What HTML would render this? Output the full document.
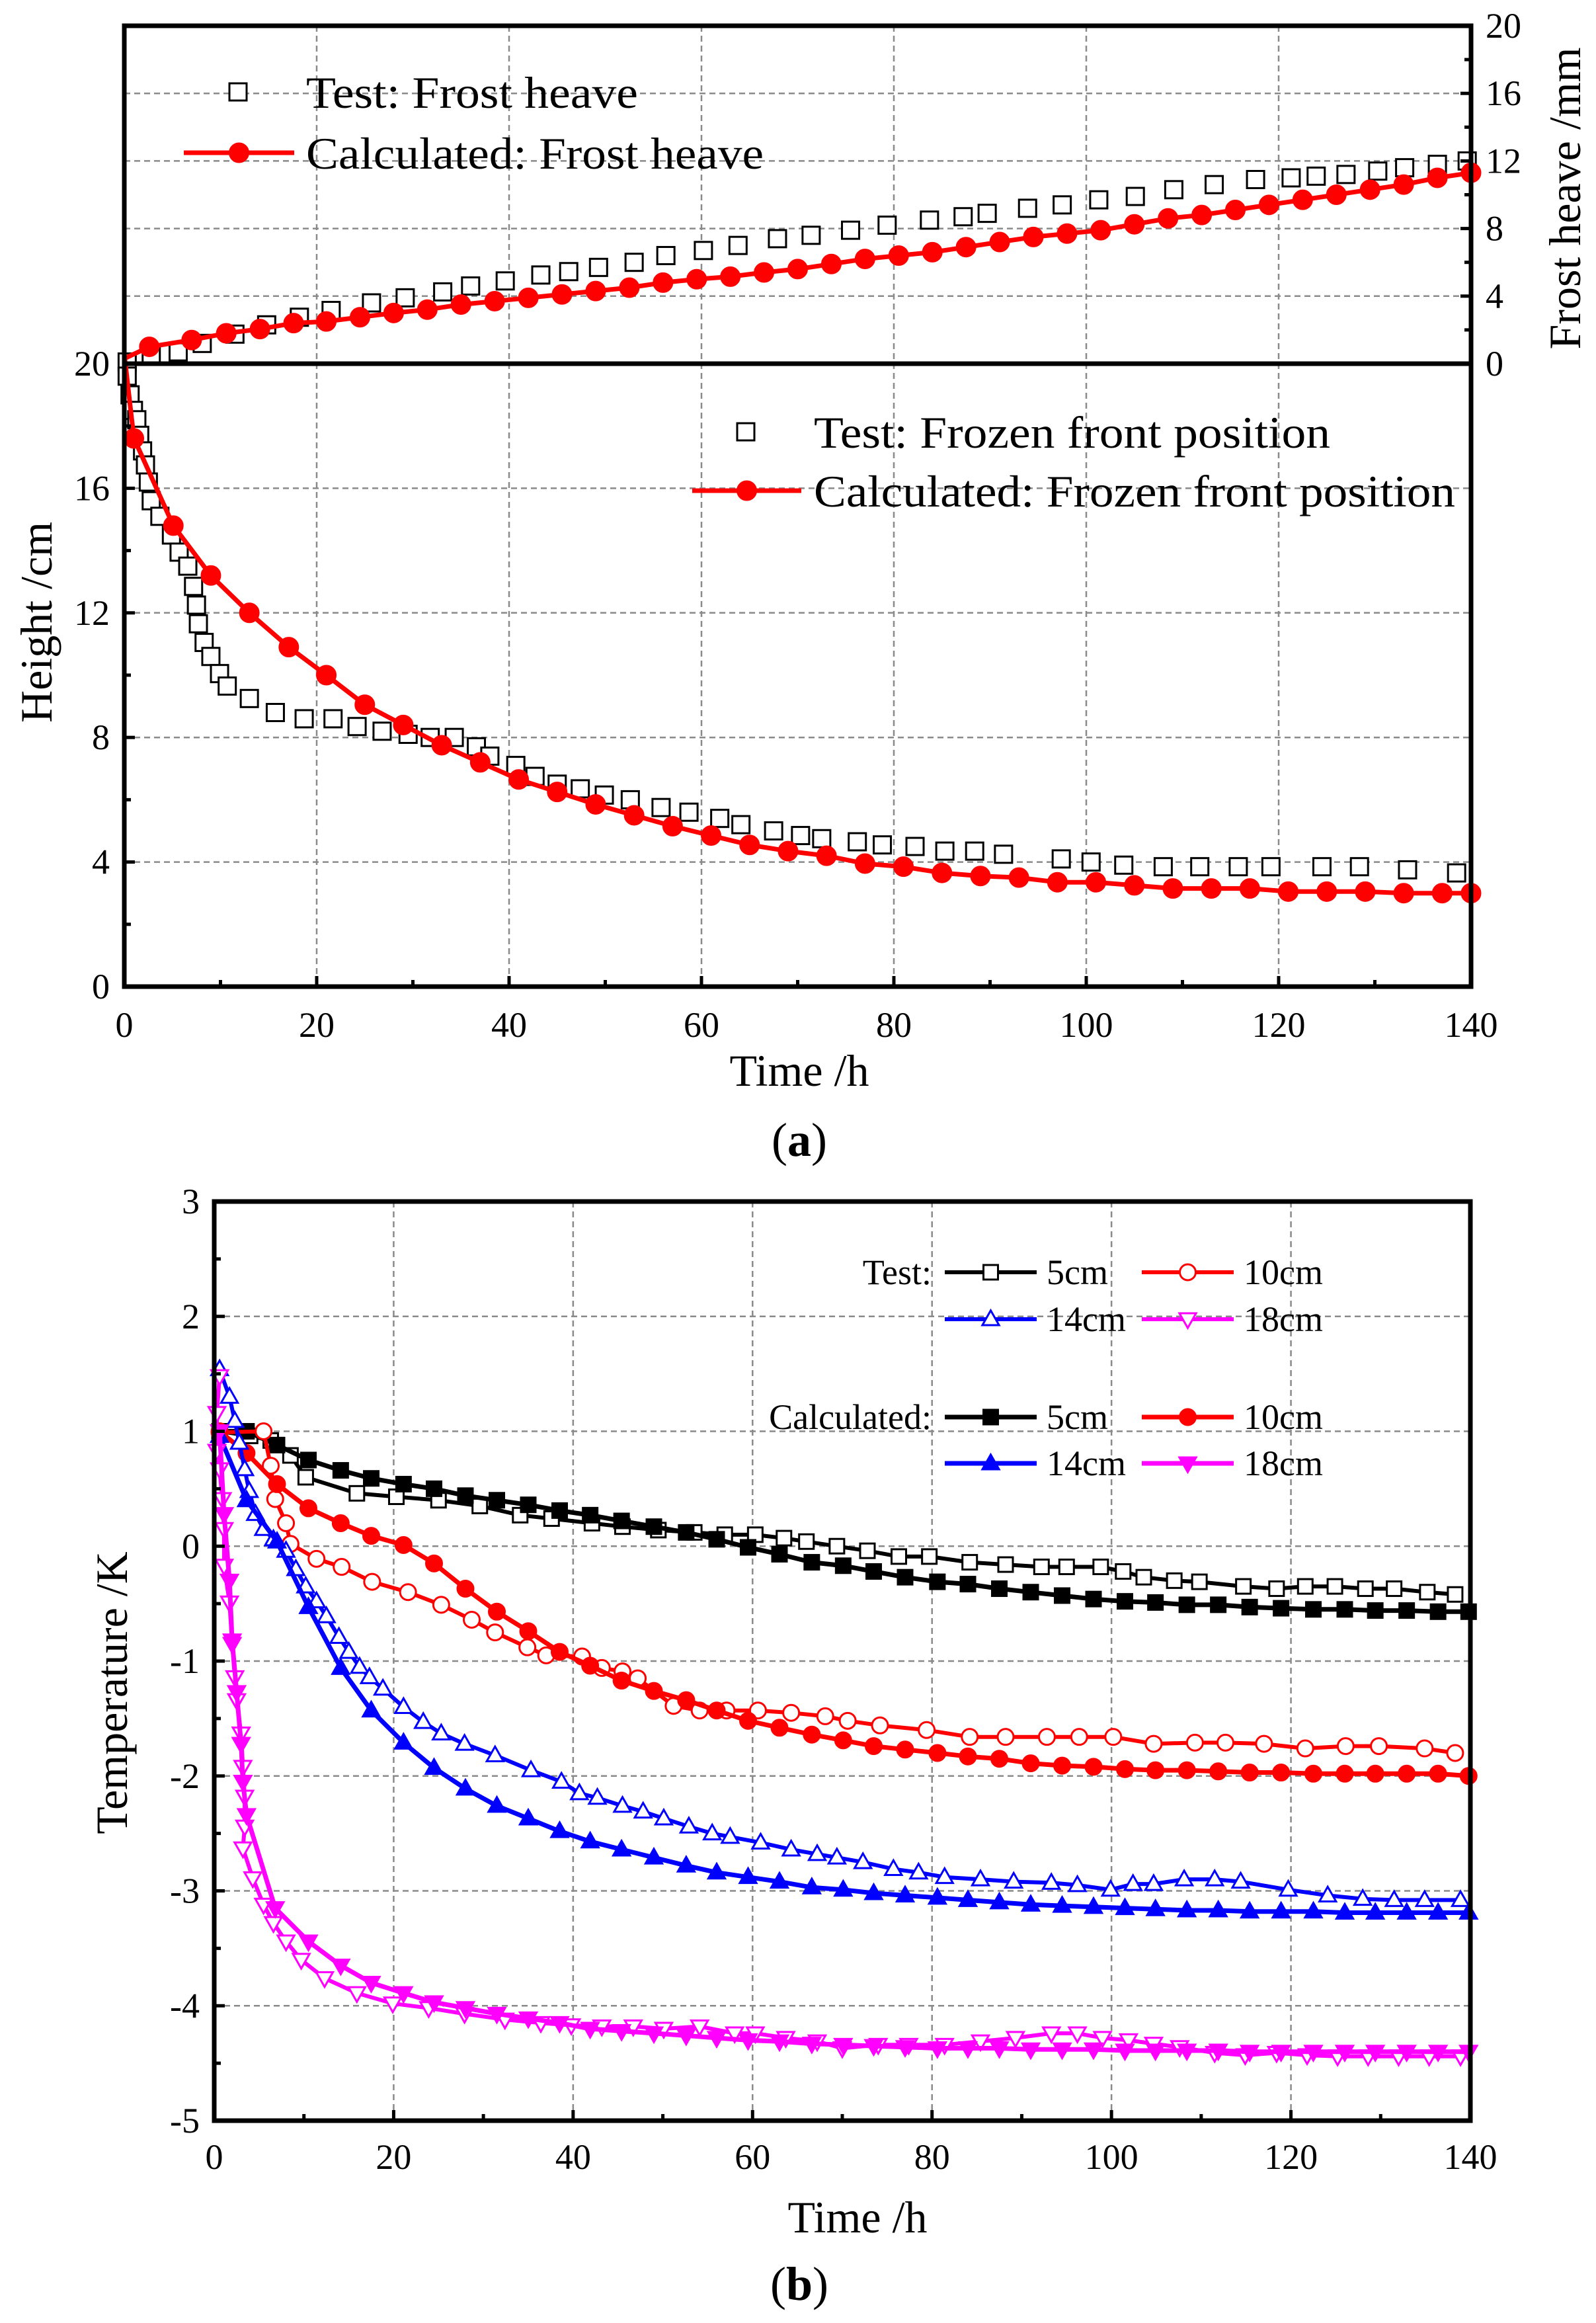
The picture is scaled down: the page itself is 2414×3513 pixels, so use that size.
<!DOCTYPE html>
<html><head><meta charset="utf-8"><style>
html,body{margin:0;padding:0;background:#fff}
svg{display:block}
text{font-family:"Liberation Serif",serif;fill:#000}
</style></head><body>
<svg id="fig" xmlns="http://www.w3.org/2000/svg" width="2414" height="3513" viewBox="0 0 2414 3513">
<rect x="0" y="0" width="2414" height="3513" fill="#fff"/>
<g id="grid"></g>
<g id="series"></g>
<g id="frames"></g>
<g id="labels"></g>
<text x="1209" y="1642" font-size="68" text-anchor="middle">Time /h</text>
<text x="1209" y="1748" font-size="72" text-anchor="middle">(<tspan font-weight="bold">a</tspan>)</text>
<text x="0" y="0" font-size="68" text-anchor="middle" transform="translate(78,941) rotate(-90)">Height /cm</text>
<text x="0" y="0" font-size="68" text-anchor="middle" transform="translate(2390,300) rotate(-90)">Frost heave /mm</text>
<text x="1297" y="3376" font-size="68" text-anchor="middle">Time /h</text>
<text x="1209" y="3478" font-size="72" text-anchor="middle">(<tspan font-weight="bold">b</tspan>)</text>
<text x="0" y="0" font-size="68" text-anchor="middle" transform="translate(192,2560) rotate(-90)">Temperature /K</text>
<g id="legends"></g>
</svg>
<script>
// ---------- Panel (a) data ----------
const fhCalcT=[0,2.6,7,10.6,14.1,17.6,21,24.5,28,31.5,35,38.5,42,45.5,49,52.5,56,59.5,63,66.5,70,73.5,77,80.5,84,87.5,91,94.5,98,101.5,105,108.5,112,115.5,119,122.5,126,129.5,133,136.5,140];
const fhCalcV=[0.3,1.0,1.4,1.8,2.05,2.4,2.5,2.75,3.0,3.2,3.5,3.7,3.9,4.1,4.3,4.5,4.8,5.0,5.15,5.4,5.6,5.9,6.2,6.4,6.6,6.9,7.2,7.5,7.7,7.9,8.25,8.6,8.8,9.1,9.4,9.7,10.0,10.3,10.6,11.0,11.3];
const fhTestT=[0.3,2.8,5.6,8.1,11.5,14.8,18.2,21.5,25.7,29.2,33.1,36,39.6,43.3,46.2,49.3,53,56.3,60.2,63.8,67.9,71.4,75.5,79.3,83.7,87.2,89.7,93.9,97.5,101.3,105.1,109.1,113.3,117.6,121.3,123.9,127,130.3,133.1,136.5,139.6];
const fhTestV=[0.1,0.45,0.7,1.2,1.75,2.3,2.75,3.15,3.6,3.9,4.25,4.6,4.9,5.25,5.45,5.7,6.0,6.4,6.7,7.0,7.4,7.6,7.9,8.2,8.5,8.7,8.9,9.2,9.4,9.7,9.9,10.3,10.6,10.9,11.0,11.1,11.2,11.4,11.6,11.8,12.0];
const ffCalcT=[0,1,5.1,9,13,17.1,21,25,29,33,37,41,45,49,53,57,61,65,69,73,77,81,85,89,93,97,101,105,109,113,117,121,125,129,133,137,140];
const ffCalcV=[20.3,17.6,14.8,13.2,12.0,10.9,10.0,9.05,8.4,7.75,7.2,6.65,6.25,5.85,5.5,5.15,4.85,4.55,4.35,4.2,3.95,3.85,3.65,3.55,3.5,3.35,3.35,3.25,3.15,3.15,3.15,3.05,3.05,3.05,3.0,3.0,3.0];
const ffTestT=[0.3,0.6,0.95,1.3,1.6,1.9,2.2,2.5,2.8,3.7,4.9,5.7,6.6,7.2,7.5,7.7,8.3,9.0,9.9,10.7,13,15.7,18.7,21.7,24.2,26.8,29.5,31.8,34.3,36.6,38,40.7,42.7,45,47.4,49.9,52.6,55.8,58.7,61.9,64.1,67.5,70.3,72.5,76.2,78.8,82.2,85.3,88.4,91.4,97.4,100.5,103.9,108,111.8,115.8,119.2,124.5,128.4,133.4,138.5];
const ffTestV=[19.6,19.0,18.5,18.2,17.7,17.2,16.75,16.2,15.6,15.1,14.5,13.95,13.5,12.85,12.25,11.65,11.05,10.6,10.05,9.65,9.25,8.8,8.6,8.6,8.35,8.2,8.1,8.0,8.0,7.7,7.4,7.1,6.75,6.5,6.35,6.15,6.0,5.75,5.6,5.4,5.2,5.0,4.85,4.75,4.65,4.55,4.5,4.35,4.35,4.25,4.1,4.0,3.9,3.85,3.85,3.85,3.85,3.85,3.85,3.75,3.65];
const xTicksA=[0,20,40,60,80,100,120,140];
const hTicks=[0,4,8,12,16,20];
const fTicks=[0,4,8,12,16,20];
// ---------- Panel (b) data ----------
const t5Test=[0.6,4,6.3,8.5,10.2,15.9,20.3,25,29.6,34.1,37.6,42.1,45.5,49.5,53.5,56.9,60.3,63.5,66,69.4,72.8,76.3,79.7,84.2,88.2,92.2,95,98.8,101.3,103.6,107,109.8,114.7,118.4,121.6,124.9,128.3,131.5,135.2,138.3];
const v5Test=[1.0,0.96,0.92,0.79,0.6,0.46,0.43,0.4,0.35,0.27,0.24,0.2,0.17,0.14,0.12,0.1,0.1,0.07,0.04,0.0,-0.04,-0.09,-0.09,-0.14,-0.16,-0.18,-0.18,-0.18,-0.22,-0.27,-0.3,-0.31,-0.35,-0.37,-0.35,-0.35,-0.37,-0.37,-0.40,-0.42];
const tCalc=[0.6,3.6,7,10.5,14.1,17.5,21.1,24.5,28,31.5,35,38.5,41.9,45.4,49,52.6,56,59.5,63,66.6,70.1,73.5,77,80.6,84,87.5,91,94.5,98,101.5,104.9,108.4,111.9,115.4,118.9,122.5,126,129.4,132.9,136.4,139.8];
const v5Calc=[1.0,1.0,0.88,0.75,0.66,0.59,0.54,0.5,0.44,0.4,0.36,0.31,0.27,0.22,0.17,0.12,0.06,-0.01,-0.07,-0.14,-0.17,-0.22,-0.27,-0.31,-0.33,-0.37,-0.40,-0.43,-0.46,-0.48,-0.49,-0.51,-0.51,-0.53,-0.54,-0.55,-0.55,-0.56,-0.56,-0.57,-0.57];
const t10Test=[0.6,5.5,6.3,6.8,8,8.5,11.4,14.2,17.6,21.6,25.3,28.7,31.3,34.9,37,41,43.2,45.5,47.2,51.2,54.1,57.1,60.6,64.3,68.1,70.6,74.2,79.4,84.2,88.2,92.8,96.4,100.2,104.7,109.3,112.7,117,121.6,126.1,129.8,134.9,138.3];
const v10Test=[0.99,1.0,0.70,0.41,0.2,0.02,-0.11,-0.18,-0.31,-0.40,-0.51,-0.64,-0.75,-0.88,-0.95,-0.96,-1.06,-1.09,-1.15,-1.39,-1.43,-1.43,-1.43,-1.45,-1.48,-1.52,-1.56,-1.60,-1.66,-1.66,-1.66,-1.66,-1.66,-1.72,-1.71,-1.71,-1.72,-1.76,-1.74,-1.74,-1.76,-1.80];
const v10Calc=[1.0,0.81,0.54,0.33,0.2,0.09,0.01,-0.15,-0.37,-0.57,-0.74,-0.92,-1.04,-1.17,-1.26,-1.34,-1.43,-1.52,-1.58,-1.64,-1.69,-1.74,-1.77,-1.80,-1.83,-1.85,-1.89,-1.91,-1.92,-1.94,-1.95,-1.95,-1.96,-1.97,-1.97,-1.98,-1.98,-1.98,-1.98,-1.98,-2.0];
const t14Test=[0.6,1.7,2.3,2.8,3.4,3.9,4.6,5.5,6.6,8,9.1,10.2,11.4,12.5,13.9,15,16.2,17.3,18.8,21.1,23.3,25.3,27.9,31.3,35.3,38.7,40.7,42.7,45.5,47.8,50.1,52.9,55.5,57.5,60.9,64.3,67.2,69.4,72.3,75.7,78.5,81.4,85.4,89.1,93.3,96.2,99.9,102.4,104.7,108.1,111.5,114.4,119.7,124.1,128,131.5,134.9,138.9];
const v14Test=[1.54,1.30,1.09,0.9,0.67,0.48,0.28,0.15,0.06,-0.04,-0.2,-0.35,-0.48,-0.61,-0.79,-0.92,-1.05,-1.14,-1.24,-1.40,-1.53,-1.63,-1.72,-1.82,-1.95,-2.05,-2.15,-2.19,-2.26,-2.31,-2.37,-2.44,-2.50,-2.53,-2.58,-2.64,-2.68,-2.71,-2.75,-2.81,-2.84,-2.88,-2.90,-2.92,-2.93,-2.95,-2.99,-2.94,-2.94,-2.90,-2.90,-2.92,-2.99,-3.04,-3.07,-3.08,-3.08,-3.08];
const v14Calc=[0.96,0.40,0.04,-0.53,-1.06,-1.43,-1.71,-1.93,-2.11,-2.26,-2.37,-2.48,-2.57,-2.64,-2.71,-2.78,-2.84,-2.88,-2.92,-2.97,-2.99,-3.02,-3.04,-3.06,-3.08,-3.10,-3.12,-3.13,-3.14,-3.15,-3.16,-3.17,-3.17,-3.18,-3.18,-3.18,-3.19,-3.19,-3.19,-3.19,-3.19];
const t18Test=[0.6,0.3,0.3,0.6,0.9,1.1,1.1,1.7,2.0,2.3,2.5,3.0,3.2,3.4,3.4,3.2,4.3,5.5,6.6,8,9.7,12.3,15.9,19.9,23.9,27.9,32.4,36.4,39.8,43.2,46.7,50.1,54.1,58,60.3,63.7,67.2,70,74,77.4,81.4,85.4,89.3,93.3,96.2,99,101.9,104.7,107.6,111.5,114.9,118.4,121.8,125.2,128.6,132,135.4,138.9];
const v18Test=[1.48,1.16,0.83,0.67,0.41,0.15,-0.17,-0.49,-0.85,-1.14,-1.34,-1.63,-1.92,-2.18,-2.44,-2.63,-2.89,-3.12,-3.28,-3.44,-3.60,-3.76,-3.89,-3.98,-4.02,-4.07,-4.12,-4.15,-4.17,-4.18,-4.18,-4.20,-4.18,-4.24,-4.24,-4.28,-4.31,-4.37,-4.34,-4.34,-4.34,-4.31,-4.28,-4.24,-4.24,-4.28,-4.30,-4.33,-4.36,-4.41,-4.43,-4.41,-4.43,-4.44,-4.44,-4.44,-4.44,-4.44];
const t18Calc=[0.6,1.1,1.7,2.0,2.5,3.0,3.2,3.6,6.8,10.5,14.1,17.5,21.1,24.5,28,31.5,35,38.5,41.9,45.4,49,52.6,56,59.5,63,66.6,70.1,73.5,77,80.6,84,87.5,91,94.5,98,101.5,104.9,108.4,111.9,115.4,118.9,122.5,126,129.4,132.9,136.4,139.8];
const v18Calc=[1.0,0.28,-0.30,-0.82,-1.27,-1.72,-2.05,-2.34,-3.15,-3.44,-3.65,-3.80,-3.89,-3.97,-4.02,-4.07,-4.11,-4.15,-4.20,-4.22,-4.24,-4.26,-4.28,-4.30,-4.31,-4.33,-4.34,-4.35,-4.36,-4.37,-4.37,-4.37,-4.38,-4.38,-4.38,-4.39,-4.39,-4.39,-4.39,-4.40,-4.40,-4.40,-4.40,-4.40,-4.40,-4.40,-4.40];
const xTicksB=[0,20,40,60,80,100,120,140];
const yTicksB=[3,2,1,0,-1,-2,-3,-4,-5];

// ---------- geometry ----------
const A={l:188,r:2225,t:39,m:550,b:1492};
const B={l:324,r:2224,t:1817,b:3207};
function xa(t){return A.l+t/140*(A.r-A.l);}
function yh(h){return A.b-h/20*(A.b-A.m);}
function yf(f){return A.m-f/20*(A.m-A.t);}
function xb(t){return B.l+t/140*(B.r-B.l);}
function yb(v){return B.t+(3-v)/8*(B.b-B.t);}

const NS='http://www.w3.org/2000/svg';
function mk(parent,tag,attrs){const e=document.createElementNS(NS,tag);for(const k in attrs)e.setAttribute(k,attrs[k]);parent.appendChild(e);return e;}
const G=document.getElementById('grid'),S=document.getElementById('series'),F=document.getElementById('frames'),L=document.getElementById('labels'),LG=document.getElementById('legends');

function marker(parent,type,x,y,color,sz){
  let e;const h=sz/2;
  if(type==='sq'||type==='sqf'){e=mk(parent,'rect',{x:x-h,y:y-h,width:sz,height:sz,fill:type==='sqf'?color:'#fff',stroke:color,'stroke-width':3});}
  else if(type==='ci'||type==='cif'){e=mk(parent,'circle',{cx:x,cy:y,r:h,fill:type==='cif'?color:'#fff',stroke:color,'stroke-width':3});}
  else if(type==='tu'||type==='tuf'){e=mk(parent,'polygon',{points:`${x},${y-h*1.1} ${x-h*1.05},${y+h*0.75} ${x+h*1.05},${y+h*0.75}`,fill:type==='tuf'?color:'#fff',stroke:color,'stroke-width':3});}
  else {e=mk(parent,'polygon',{points:`${x},${y+h*1.1} ${x-h*1.05},${y-h*0.75} ${x+h*1.05},${y-h*0.75}`,fill:type==='tdf'?color:'#fff',stroke:color,'stroke-width':3});}
  return e;
}
function drawSeries(name,ts,vs,fx,fy,color,type,sz,lw,skipFirst){
  const g=mk(S,'g',{});
  
  
  if(lw>0){
    const d=ts.map((t,i)=>(i?'L':'M')+fx(t).toFixed(1)+','+fy(vs[i]).toFixed(1)).join(' ');
    const p=mk(g,'path',{d:d,fill:'none',stroke:color,'stroke-width':lw,'stroke-linejoin':'round'});
    
    
  }
  ts.forEach((t,i)=>{
    if(skipFirst&&i===0)return;
    const m=marker(g,type,fx(t),fy(vs[i]),color,sz);
    
    
  });
}

// ---------- grids ----------
const dash={stroke:'#8a8a8a','stroke-width':2.5,'stroke-dasharray':'9,6'};
xTicksA.slice(1,-1).forEach(t=>{const l=mk(G,'line',Object.assign({x1:xa(t),x2:xa(t),y1:A.t,y2:A.b},dash));
  
  });
hTicks.slice(1,-1).forEach(h=>{const l=mk(G,'line',Object.assign({x1:A.l,x2:A.r,y1:yh(h),y2:yh(h)},dash));
  
  });
fTicks.slice(1,-1).forEach(f=>{const l=mk(G,'line',Object.assign({x1:A.l,x2:A.r,y1:yf(f),y2:yf(f)},dash));
  
  });
xTicksB.slice(1,-1).forEach(t=>{const l=mk(G,'line',Object.assign({x1:xb(t),x2:xb(t),y1:B.t,y2:B.b},dash));
  
  });
yTicksB.slice(1,-1).forEach(v=>{const l=mk(G,'line',Object.assign({x1:B.l,x2:B.r,y1:yb(v),y2:yb(v)},dash));
  
  });

// ---------- series (a) ----------
drawSeries('test-frost-heave',fhTestT,fhTestV,xa,yf,'#000','sq',26,0,false);
drawSeries('calc-frost-heave',fhCalcT,fhCalcV,xa,yf,'#f00','cif',28,7,true);
drawSeries('test-frozen-front',ffTestT,ffTestV,xa,yh,'#000','sq',26,0,false);
drawSeries('calc-frozen-front',ffCalcT,ffCalcV,xa,yh,'#f00','cif',28,7,true);
// ---------- series (b) ----------
drawSeries('test-5cm',t5Test,v5Test,xb,yb,'#000','sq',22,6,false);
drawSeries('calc-5cm',tCalc,v5Calc,xb,yb,'#000','sqf',22,7,false);
drawSeries('test-10cm',t10Test,v10Test,xb,yb,'#f00','ci',24,6,false);
drawSeries('calc-10cm',tCalc,v10Calc,xb,yb,'#f00','cif',24,7,false);
drawSeries('test-14cm',t14Test,v14Test,xb,yb,'#00f','tu',24,6,false);
drawSeries('calc-14cm',tCalc,v14Calc,xb,yb,'#00f','tuf',24,7,false);
drawSeries('test-18cm',t18Test,v18Test,xb,yb,'#f0f','td',24,6,false);
drawSeries('calc-18cm',t18Calc,v18Calc,xb,yb,'#f0f','tdf',24,7,false);

// ---------- frames & ticks ----------
function line(p,x1,y1,x2,y2,w,name){const l=mk(p,'line',{x1,y1,x2,y2,stroke:'#000','stroke-width':w});
  
  return l;}
const fa=mk(F,'rect',{x:A.l,y:A.t,width:A.r-A.l,height:A.b-A.t,fill:'none',stroke:'#000','stroke-width':7});


line(F,A.l,A.m,A.r,A.m,7,'panel-divider');
const fb=mk(F,'rect',{x:B.l,y:B.t,width:B.r-B.l,height:B.b-B.t,fill:'none',stroke:'#000','stroke-width':7});


for(let t=0;t<=140;t+=10){const len=(t%20===0)?16:10;
  line(F,xa(t),A.b,xa(t),A.b-len,5,'x-tick-a');
  line(F,xb(t),B.b,xb(t),B.b-len,5,'x-tick-b');}
for(let h=0;h<=20;h+=2){const len=(h%4===0)?16:10;line(F,A.l,yh(h),A.l+len,yh(h),5,'y-tick-height');
  line(F,A.r,yf(h),A.r-len,yf(h),5,'y-tick-frost');}
for(let v=-5;v<=3;v+=0.5){const len=(Number.isInteger(v))?16:10;line(F,B.l,yb(v),B.l+len,yb(v),5,'y-tick-b');}

function label(x,y,s,anchor,name){const e=mk(L,'text',{x,y,'font-size':54,'text-anchor':anchor});e.textContent=s;
  
  }
xTicksA.forEach(t=>label(xa(t),1568,String(t),'middle','x-tick-label-a'));
hTicks.forEach(h=>label(A.l-22,yh(h)+18,String(h),'end','y-tick-label-height'));
fTicks.forEach(f=>label(A.r+22,yf(f)+18,String(f),'start','y-tick-label-frost'));
xTicksB.forEach(t=>label(xb(t),3280,String(t),'middle','x-tick-label-b'));
yTicksB.forEach(v=>label(B.l-22,yb(v)+18,String(v),'end','y-tick-label-b'));

// ---------- legends ----------
function legText(x,y,s,size,len,name,anchor){const e=mk(LG,'text',{x,y,'font-size':size,'text-anchor':anchor||'start'});if(len){e.setAttribute('textLength',len);e.setAttribute('lengthAdjust','spacingAndGlyphs');}e.textContent=s;
  
  }
function legEntry(x1,x2,y,color,type,sz,lw,name){const g=mk(LG,'g',{});
  
  
  if(lw>0)mk(g,'line',{x1,y1:y,x2,y2:y,stroke:color,'stroke-width':lw});
  marker(g,type,(x1+x2)/2,y,color,sz);}
legEntry(330,390,139,'#000','sq',26,0,'legend-test-frost-heave');
legText(463,163,'Test: Frost heave',68,502,'legend-label-test-frost-heave');
legEntry(278,445,231,'#f00','cif',28,7,'legend-calc-frost-heave');
legText(463,255,'Calculated: Frost heave',68,692,'legend-label-calc-frost-heave');
legEntry(1098,1158,653,'#000','sq',26,0,'legend-test-frozen-front');
legText(1231,677,'Test: Frozen front position',68,781,'legend-label-test-frozen-front');
legEntry(1047,1212,742,'#f00','cif',28,7,'legend-calc-frozen-front');
legText(1231,766,'Calculated: Frozen front position',68,970,'legend-label-calc-frozen-front');

legText(1409,1942,'Test:',54,0,'legend-title-test','end');
legEntry(1429,1568,1924,'#000','sq',22,6,'legend-test-5cm');legText(1583,1942,'5cm',54,0,'legend-label-test-5cm');
legEntry(1727,1866,1924,'#f00','ci',24,6,'legend-test-10cm');legText(1881,1942,'10cm',54,0,'legend-label-test-10cm');
legEntry(1429,1568,1995,'#00f','tu',24,6,'legend-test-14cm');legText(1583,2013,'14cm',54,0,'legend-label-test-14cm');
legEntry(1727,1866,1995,'#f0f','td',24,6,'legend-test-18cm');legText(1881,2013,'18cm',54,0,'legend-label-test-18cm');
legText(1409,2161,'Calculated:',54,0,'legend-title-calculated','end');
legEntry(1429,1568,2143,'#000','sqf',22,7,'legend-calc-5cm');legText(1583,2161,'5cm',54,0,'legend-label-calc-5cm');
legEntry(1727,1866,2143,'#f00','cif',24,7,'legend-calc-10cm');legText(1881,2161,'10cm',54,0,'legend-label-calc-10cm');
legEntry(1429,1568,2213,'#00f','tuf',24,7,'legend-calc-14cm');legText(1583,2231,'14cm',54,0,'legend-label-calc-14cm');
legEntry(1727,1866,2213,'#f0f','tdf',24,7,'legend-calc-18cm');legText(1881,2231,'18cm',54,0,'legend-label-calc-18cm');
</script>
</body></html>
